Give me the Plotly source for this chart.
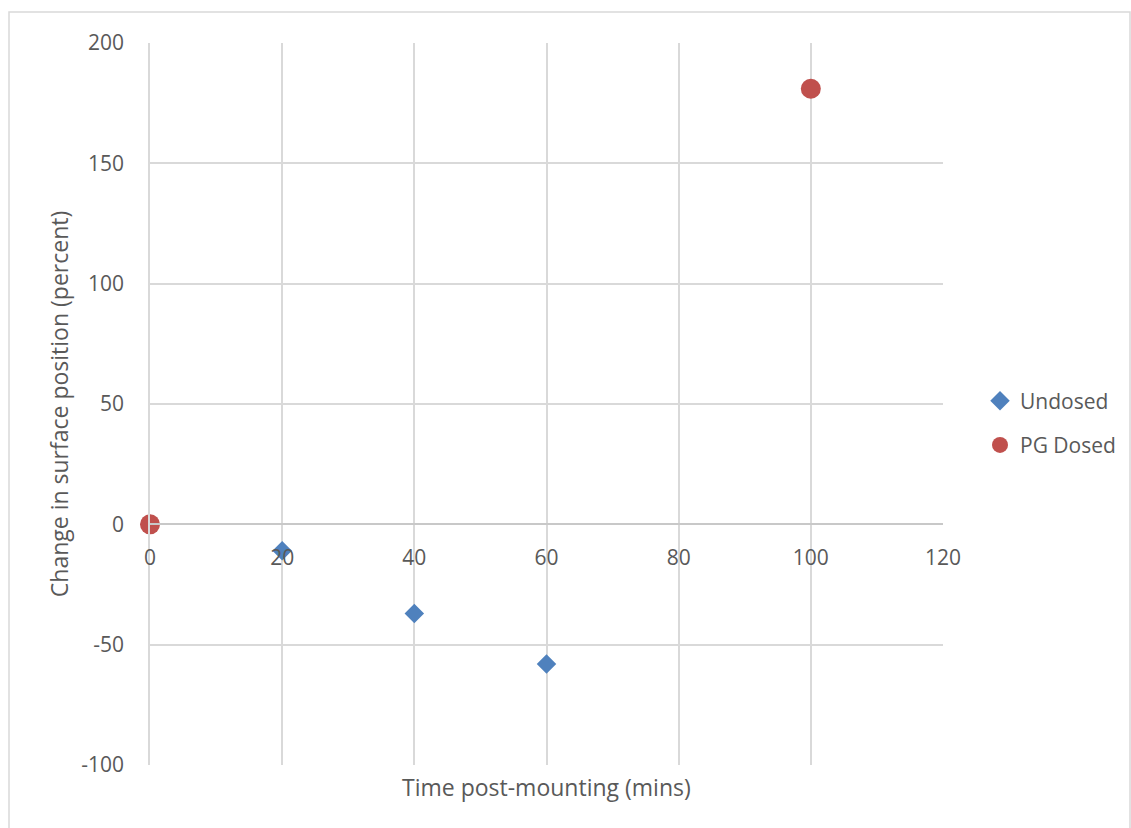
import plotly.graph_objects as go

undosed_x = [0, 20, 40, 60]
undosed_y = [0, -11, -37, -58]
pg_x = [0, 100]
pg_y = [0, 181]

x_ticks = [0, 20, 40, 60, 80, 100, 120]
y_ticks = [-100, -50, 0, 50, 100, 150, 200]

W, H = 1131, 828
L, R, T, B = 150, 943, 43, 765

font = "Open Sans"
txt = "#595959"
grid = "#d9d9d9"

fig = go.Figure()
fig.add_trace(go.Scatter(x=undosed_x, y=undosed_y, mode="markers", name="Undosed",
                         legendgroup="a", cliponaxis=False,
                         marker=dict(symbol="diamond", size=15, color="#4f81bd")))
fig.add_trace(go.Scatter(x=pg_x, y=pg_y, mode="markers", name="PG Dosed",
                         legendgroup="b", cliponaxis=False,
                         marker=dict(symbol="circle", size=20, color="#c0504d")))

pw, ph = R - L, B - T
def px_x(p):
    return (p - L) / pw
def px_y(p):
    return (B - p) / ph

zero_pos = (0 - (-100)) / 300

fig.update_layout(
    width=W, height=H,
    margin=dict(l=L, r=W - R, t=T, b=H - B, pad=0, autoexpand=False),
    paper_bgcolor="white", plot_bgcolor="white",
    font=dict(family=font, size=21, color=txt),
    xaxis=dict(range=[0, 120], tickvals=x_ticks, ticktext=[str(v) for v in x_ticks],
               showgrid=True, gridcolor=grid, gridwidth=1.5,
               zeroline=False, showline=True, linecolor="#c8c8c8", linewidth=1.5,
               anchor="free", position=zero_pos, ticks="", ticklabelstandoff=15,
               tickfont=dict(size=21, color=txt)),
    yaxis=dict(range=[-100, 200], tickvals=y_ticks, ticktext=[str(v) for v in y_ticks],
               showgrid=True, gridcolor=grid, gridwidth=1.5,
               zeroline=False, showline=True, linecolor=grid, linewidth=1.5,
               ticks="", ticklabelstandoff=20,
               tickfont=dict(size=21, color=txt),
               title=dict(text="Change in surface position (percent)", standoff=6,
                          font=dict(size=23, color=txt))),
    legend=dict(xref="container", yref="container", x=980 / W, y=(H - 423) / H,
                xanchor="left", yanchor="middle",
                font=dict(size=21, color=txt), tracegroupgap=14,
                traceorder="grouped", bgcolor="rgba(0,0,0,0)"),
    annotations=[dict(text="Time post-mounting (mins)", xref="paper", yref="paper",
                      x=0.5, y=px_y(787), xanchor="center", yanchor="middle",
                      showarrow=False, font=dict(size=23, color=txt))],
    shapes=[dict(type="rect", xref="paper", yref="paper",
                 x0=px_x(9), x1=px_x(1130), y0=px_y(850), y1=px_y(12),
                 line=dict(color=grid, width=1.5), fillcolor="rgba(0,0,0,0)", layer="below")],
)

fig.write_html("out.html", config={"displayModeBar": False},
               post_script="document.body.style.margin='0';document.body.style.overflow='hidden';")
